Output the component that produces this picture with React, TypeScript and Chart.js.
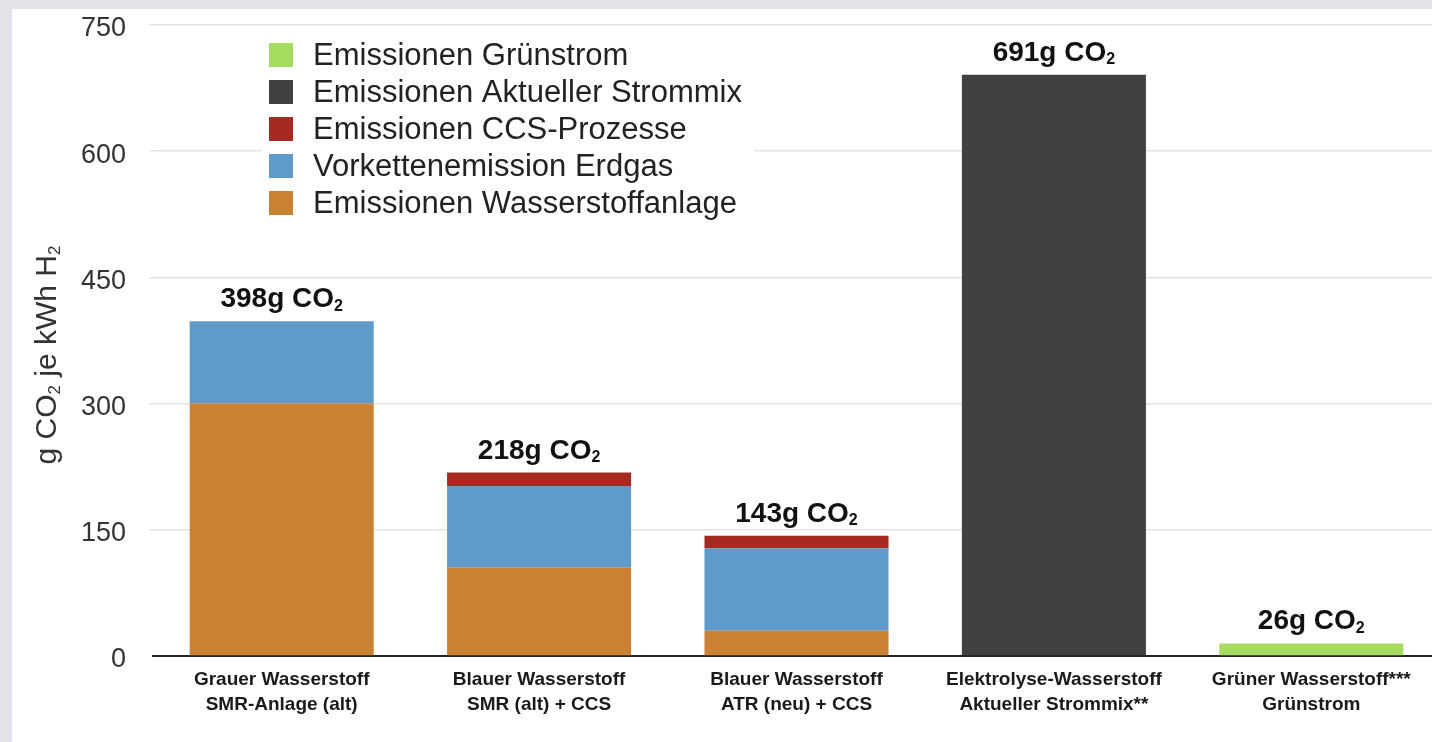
import React, { useEffect, useRef } from "react";
import { Chart, registerables } from "chart.js";

Chart.register(...registerables);

const FONT = '"Liberation Sans", Arial, Helvetica, sans-serif';

const categories: string[][] = [
  ["Grauer Wasserstoff", "SMR-Anlage (alt)"],
  ["Blauer Wasserstoff", "SMR (alt) + CCS"],
  ["Blauer Wasserstoff", "ATR (neu) + CCS"],
  ["Elektrolyse-Wasserstoff", "Aktueller Strommix**"],
  ["Grüner Wasserstoff***", "Grünstrom"],
];

const wasserstoffanlage = [300, 105, 30, null, null];
const vorkette = [98, 97, 98, null, null];
const ccsProzesse = [null, 16, 15, null, null];
const strommix = [null, null, null, 691, null];
const gruenstrom = [null, null, null, null, 15];

const totalLabels = ["398g CO₂", "218g CO₂", "143g CO₂", "691g CO₂", "26g CO₂"];

const seriesNames = [
  "Emissionen Wasserstoffanlage",
  "Vorkettenemission Erdgas",
  "Emissionen CCS-Prozesse",
  "Emissionen Aktueller Strommix",
  "Emissionen Grünstrom",
];
const seriesColors = ["#c98233", "#5f9ac8", "#a62a22", "#414141", "#a5db5f"];

const yMin = 0;
const yMax = 750;
const yStep = 150;
const yTitle = "g CO₂ je kWh H₂";

function drawRich(
  ctx: CanvasRenderingContext2D,
  text: string,
  x: number,
  y: number,
  size: number,
  weight: string,
  align: "center" | "left",
  color: string
) {
  const segs: { t: string; sub: boolean }[] = [];
  let buf = "";
  for (const ch of text) {
    if (ch === "₂") {
      if (buf) segs.push({ t: buf, sub: false });
      segs.push({ t: "2", sub: true });
      buf = "";
    } else buf += ch;
  }
  if (buf) segs.push({ t: buf, sub: false });
  const mainF = `${weight} ${size}px ${FONT}`;
  const subF = `${weight} ${Math.round(size * 0.58)}px ${FONT}`;
  let total = 0;
  for (const s of segs) {
    ctx.font = s.sub ? subF : mainF;
    total += ctx.measureText(s.t).width;
  }
  let cx = align === "center" ? x - total / 2 : x;
  ctx.textAlign = "left";
  ctx.fillStyle = color;
  for (const s of segs) {
    ctx.font = s.sub ? subF : mainF;
    ctx.fillText(s.t, cx, s.sub ? y + size * 0.12 : y);
    cx += ctx.measureText(s.t).width;
  }
}

const overlayPlugin = {
  id: "overlay",
  afterDatasetsDraw(chart: any) {
    const ctx: CanvasRenderingContext2D = chart.ctx;
    const xs = chart.scales.x;
    const ys = chart.scales.y;
    ctx.save();
    // total labels
    ctx.textBaseline = "alphabetic";
    totalLabels.forEach((lbl, i) => {
      let sum = 0;
      chart.data.datasets.forEach((ds: any) => {
        const v = ds.data[i];
        if (typeof v === "number") sum += v;
      });
      const px = xs.getPixelForValue(i);
      const py = ys.getPixelForValue(sum);
      drawRich(ctx, lbl, px, py - 14, 28, "bold", "center", "#111111");
    });

    // legend
    ctx.fillStyle = "#ffffff";
    ctx.fillRect(250, 28, 492, 190);
    const rows = [...chart.data.datasets].reverse();
    rows.forEach((ds: any, k: number) => {
      const cy = 46 + k * 37;
      ctx.fillStyle = ds.backgroundColor;
      ctx.fillRect(257, cy - 12, 24, 24);
      ctx.fillStyle = "#222222";
      ctx.font = `normal 31px ${FONT}`;
      ctx.textAlign = "left";
      ctx.textBaseline = "middle";
      ctx.fillText(ds.label, 301, cy + 1);
    });

    // y title
    ctx.translate(44, 346);
    ctx.rotate(-Math.PI / 2);
    ctx.textBaseline = "alphabetic";
    drawRich(ctx, yTitle, 0, 0, 30, "normal", "center", "#333333");
    ctx.restore();
  },
};

export default function App() {
  const ref = useRef<HTMLCanvasElement>(null);
  useEffect(() => {
    if (!ref.current) return;
    const data = [wasserstoffanlage, vorkette, ccsProzesse, strommix, gruenstrom];
    const chart = new Chart(ref.current, {
      type: "bar",
      data: {
        labels: categories,
        datasets: data.map((d, i) => ({
          label: seriesNames[i],
          data: d,
          backgroundColor: seriesColors[i],
          borderWidth: 0,
          barPercentage: 0.715,
          categoryPercentage: 1,
        })),
      },
      options: {
        responsive: false,
        animation: false,
        devicePixelRatio: 1,
        layout: { padding: { left: 0, top: 16, right: 2, bottom: 0 } },
        plugins: {
          legend: { display: false },
          tooltip: { enabled: false },
        },
        scales: {
          x: {
            stacked: true,
            grid: { display: false, drawTicks: false },
            border: { display: true, color: "#222222", width: 2 },
            ticks: {
              color: "#1a1a1a",
              padding: 11,
              maxRotation: 0,
              autoSkip: false,
              font: { family: FONT, size: 19, weight: "bold", lineHeight: 1.32 },
            },
            afterFit: (s: any) => {
              s.height = 86;
              s.paddingLeft = 0;
              s.paddingRight = 0;
            },
          },
          y: {
            stacked: true,
            min: yMin,
            max: yMax,
            border: { display: false },
            grid: {
              color: (c: any) => (c.tick && c.tick.value === 0 ? "rgba(0,0,0,0)" : "#e4e4e4"),
              lineWidth: 1.5,
              drawTicks: true,
              tickLength: 4,
            },
            ticks: {
              stepSize: yStep,
              color: "#333333",
              padding: 23,
              labelOffset: 4,
              font: { family: FONT, size: 27 },
            },
            afterFit: (s: any) => {
              s.width = 141;
              s.paddingTop = 0;
              s.paddingBottom = 0;
            },
          },
        },
      },
      plugins: [overlayPlugin],
    } as any);
    return () => chart.destroy();
  }, []);

  return (
    <div style={{ position: "fixed", left: 0, top: 0, width: 1432, height: 742, background: "#e3e4e9", overflow: "hidden" }}>
      <div style={{ position: "absolute", left: 12, top: 9, right: 0, bottom: 0, background: "#ffffff", overflow: "hidden" }}>
        <canvas ref={ref} width={1430} height={733} style={{ display: "block" }} />
      </div>
    </div>
  );
}
